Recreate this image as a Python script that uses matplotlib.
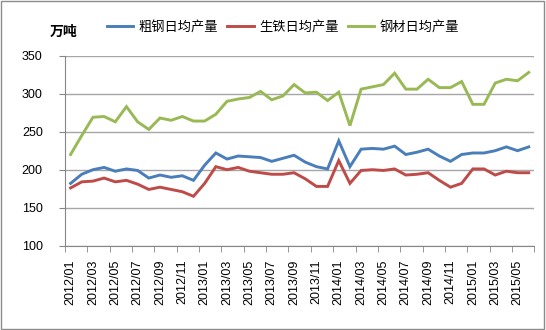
import matplotlib
matplotlib.use('Agg')
import matplotlib.pyplot as plt
from matplotlib.patches import Rectangle

plt.rcParams['font.family'] = ['Liberation Sans', 'Noto Sans CJK SC']

# 2012/01 .. 2015/06, monthly
months = [f'{y}/{m:02d}' for y in (2012, 2013, 2014, 2015) for m in range(1, 13)][:42]

crude_steel = [182, 194, 200, 203, 198, 201, 199, 189, 193, 190, 192,
               186, 206, 222, 214, 218, 217, 216, 211, 215, 219,
               210, 204, 201, 238, 204, 227, 228, 227, 231, 220, 223,
               227, 218, 211, 220, 222, 222, 225, 230, 225, 230]
pig_iron = [176, 184, 185, 189, 184, 186, 181, 174, 177, 174, 171,
            165, 182, 204, 200, 203, 198, 196, 194, 194, 196,
            188, 178, 178, 212, 182, 199, 200, 199, 201, 193, 194,
            196, 186, 177, 182, 201, 201, 193, 198, 196, 196]
steel_products = [220, 245, 269, 270, 263, 283, 263, 253, 268, 265, 270,
                  264, 264, 273, 290, 293, 295, 303, 292, 297, 312,
                  301, 302, 291, 302, 258, 306, 309, 312, 327, 306, 306,
                  319, 308, 308, 316, 286, 286, 314, 319, 317, 328]

names = ['粗钢日均产量', '生铁日均产量', '钢材日均产量']
colors = ['#4A7EBB', '#BE4B48', '#98B954']

fig = plt.figure(figsize=(5.46, 3.30), dpi=100)
ax = fig.add_axes([65/546, 84.3/330, 469.3/546, 190/330])

x = list(range(len(months)))
for vals, name, c in zip([crude_steel, pig_iron, steel_products], names, colors):
    ax.plot(x, vals, color=c, lw=2.1, label=name, solid_joinstyle='miter')

ax.set_xlim(-0.5, len(months) - 0.5)
ax.set_ylim(100, 350)
ax.set_yticks(range(100, 351, 50))
ax.grid(axis='y', color='#A6A6A6', lw=1)
ax.set_axisbelow(True)

ax.set_xticks(x[::2])
ax.set_xticklabels(months[::2], rotation=90, fontsize=9)
ax.set_xticks([i - 0.5 for i in range(0, len(months) + 1, 2)], minor=True)
ax.tick_params(axis='x', which='major', length=0, pad=10)
ax.tick_params(axis='x', which='minor', length=4, color='#868686')
ax.tick_params(axis='y', length=4, color='#868686', labelsize=9, pad=12)

for s in ['top', 'right']:
    ax.spines[s].set_visible(False)
for s in ['left', 'bottom']:
    ax.spines[s].set_color('#868686')

fig.text(50/546, 1 - 32/330, '万吨', fontsize=10, fontweight='bold', va='center')
fig.legend(loc='center', bbox_to_anchor=(283/546, 1 - 27/330), ncol=3,
           frameon=False, fontsize=9.5, handlelength=2.0, handletextpad=0.4,
           columnspacing=0.7)

fig.patches.append(Rectangle((0.002, 0.003), 0.995, 0.994, transform=fig.transFigure,
                             fill=False, ec='#8C8C8C', lw=1))

fig.savefig('out.png', dpi=100)
